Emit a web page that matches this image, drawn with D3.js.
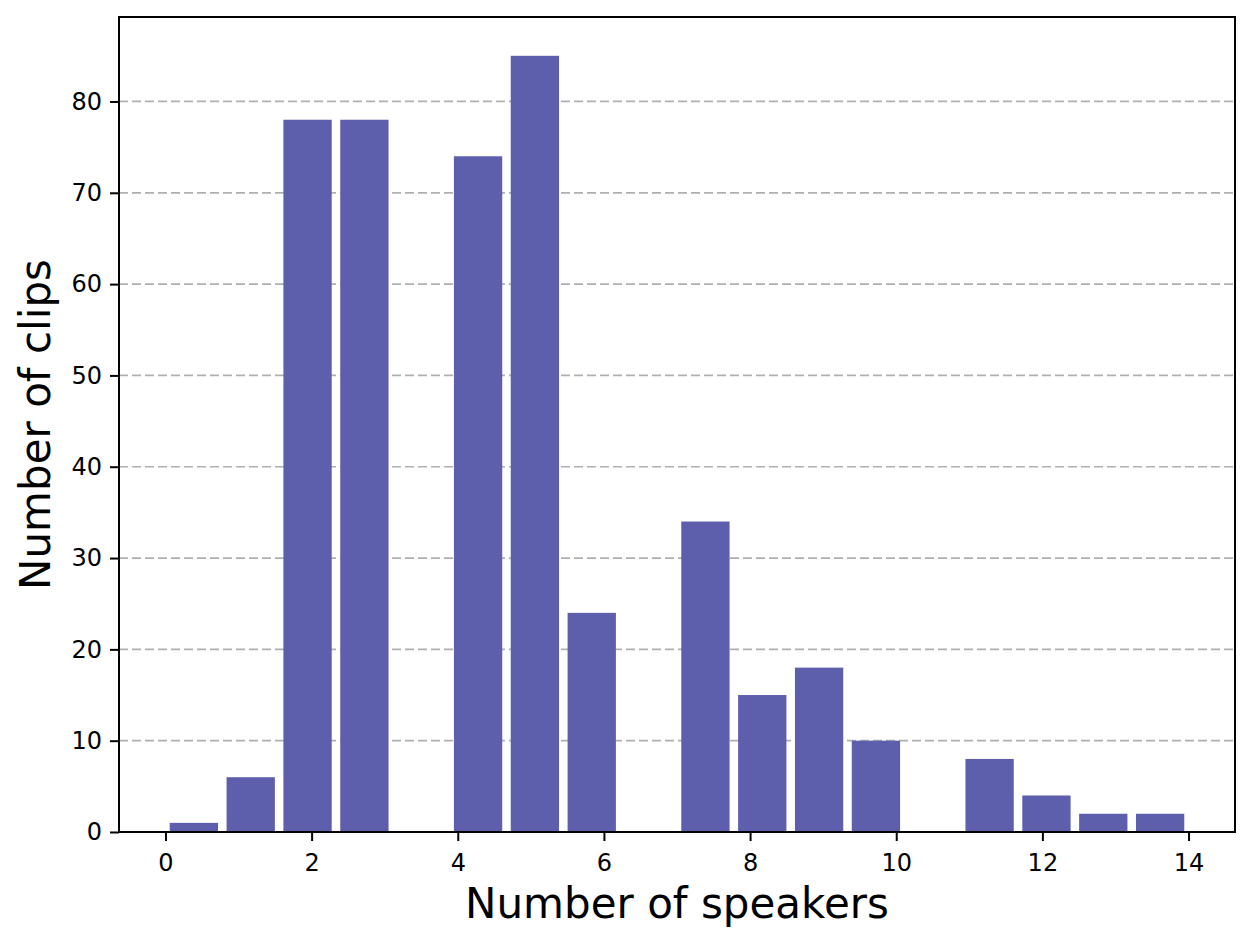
<!DOCTYPE html>
<html>
<head>
<meta charset="utf-8">
<script src="https://cdn.jsdelivr.net/npm/d3@7"></script>
<style>
body { margin: 0; background: #fff; }
text { font-family: "DejaVu Sans", sans-serif; }
</style>
</head>
<body>
<svg id="chart" width="1253" height="944"></svg>
<script>
// histogram: 18 bins between 0 and 14, counts per bin
const binEdges = d3.range(19).map(i => i * 14 / 18);
const binCounts = [1, 6, 78, 78, 0, 74, 85, 24, 0, 34, 15, 18, 10, 0, 8, 4, 2, 2];
const xTicks = [0, 2, 4, 6, 8, 10, 12, 14];
const yTicks = [0, 10, 20, 30, 40, 50, 60, 70, 80];

const svg = d3.select("#chart"),
	plotLeft = 119, plotRight = 1235, plotTop = 17, plotBottom = 832;

const rwidth = 0.85;
const binW = binEdges[1] - binEdges[0];
const pad = binW * (1 - rwidth) / 2;
const lo = binEdges[0] + pad, hi = binEdges[18] - pad;
const m = (hi - lo) * 0.05;

const x = d3.scaleLinear().domain([lo - m, hi + m]).range([plotLeft, plotRight]);
const y = d3.scaleLinear().domain([0, d3.max(binCounts) * 1.05]).range([plotBottom, plotTop]);

// grid (y only, dashed)
svg.append("g")
	.selectAll("line")
	.data(yTicks.filter(d => d > 0))
	.enter()
	.append("line")
	.attr("x1", plotLeft).attr("x2", plotRight)
	.attr("y1", d => y(d)).attr("y2", d => y(d))
	.style("stroke", "#b0b0b0")
	.style("stroke-width", 1.7)
	.style("stroke-dasharray", "9,4");

// bars
svg.append("g")
	.selectAll("rect")
	.data(binCounts)
	.enter()
	.append("rect")
	.attr("x", (d, i) => x(binEdges[i] + pad))
	.attr("width", (d, i) => x(binEdges[i + 1] - pad) - x(binEdges[i] + pad))
	.attr("y", d => y(d))
	.attr("height", d => plotBottom - y(d))
	.style("fill", "#5d5fad");

// axes
const xAxis = svg.append("g")
	.attr("transform", "translate(0," + plotBottom + ")")
	.call(d3.axisBottom(x).tickValues(xTicks).tickSize(9).tickPadding(13));
const yAxis = svg.append("g")
	.attr("transform", "translate(" + plotLeft + ",0)")
	.call(d3.axisLeft(y).tickValues(yTicks).tickSize(9).tickPadding(8));

[xAxis, yAxis].forEach(a => {
	a.select(".domain").remove();
	a.selectAll("line").style("stroke", "#000").style("stroke-width", 2);
	a.selectAll("text").style("font-size", "24px").style("fill", "#000")
		.style("font-family", "DejaVu Sans");
});

// frame
svg.append("rect")
	.attr("x", plotLeft).attr("y", plotTop)
	.attr("width", plotRight - plotLeft).attr("height", plotBottom - plotTop)
	.style("fill", "none")
	.style("stroke", "#000")
	.style("stroke-width", 2);

// labels
svg.append("text")
	.attr("x", (plotLeft + plotRight) / 2)
	.attr("y", 918)
	.attr("text-anchor", "middle")
	.style("font-size", "42px")
	.text("Number of speakers");

svg.append("text")
	.attr("transform", "translate(50," + (plotTop + plotBottom) / 2 + ") rotate(-90)")
	.attr("text-anchor", "middle")
	.style("font-size", "42px")
	.text("Number of clips");
</script>
</body>
</html>
